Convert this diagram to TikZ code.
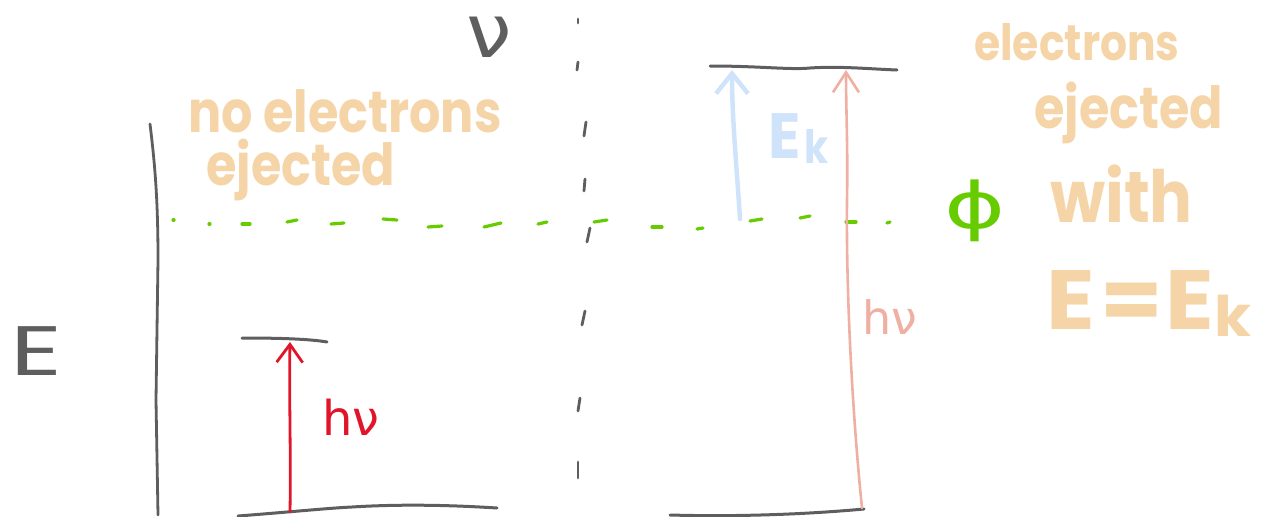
\documentclass[tikz,border=0pt]{standalone}
\usepackage{fontspec}
\setmainfont{Poppins}
\newfontfamily\notefont[FakeStretch=0.85]{Poppins}
\newfontfamily\greekfont{DejaVu Sans}
\usetikzlibrary{arrows.meta}

\definecolor{inkgray}{HTML}{5E5E5E}
\definecolor{notegold}{HTML}{F5D5A8}
\definecolor{phigreen}{HTML}{66CC00}
\definecolor{photonred}{HTML}{E0152A}
\definecolor{photonpink}{HTML}{EFAFA2}
\definecolor{kinblue}{HTML}{CFE4FB}

\begin{document}
\begin{tikzpicture}[x=1pt,y=-1pt,line cap=round,line join=round,
  ink/.style={draw=inkgray,line width=2.8pt},
  level/.style={draw=inkgray,line width=3pt},
  tick/.style={draw=inkgray,line width=2.8pt},
  workfn/.style={draw=phigreen,line width=3.2pt},
  note/.style={text=notegold,inner sep=0pt,anchor=base west},
  lbl/.style={inner sep=0pt,anchor=base west}]
\useasboundingbox (0,0) rectangle (1262,517);

% energy axis
\draw[ink] (150,124) .. controls (155,165) and (158,200) .. (158,260)
  -- (156,400) -- (158,515);
\node[lbl,text=inkgray,font=\fontsize{70}{76}\selectfont] (Elab) at (10,375) {\scalebox{1.45}[1]{E}};

% frequency divider
\node[lbl,text=inkgray,font=\greekfont\fontsize{74}{80}\selectfont] (nulab) at (466,57) {\scalebox{1.1}[1]{ν}};
\foreach \xa/\ya/\xb/\yb in {578/19/578/23, 578/62/577/70, 586/122/584/136,
    585/179/584/191, 590/228/587/242, 585/311/582/325, 580/398/578/411,
    578/462/578/478}
  \draw[tick] (\xa,\ya) -- (\xb,\yb);

% work function threshold
\foreach \xa/\ya/\xb/\yb in {173/220/174/220, 209/224/210/224, 242/224/250/224,
    287/222/297/220, 331/224/344/223, 383/219/397/220, 428/227/442/226,
    484/227/501/223, 538/224/547/222, 594/222/607/220, 652/227/662/227,
    697/229/703/228, 750/221/762/219, 800/218/810/216, 846/222/856/222,
    887/223/890/222}
  \draw[workfn] (\xa,\ya) -- (\xb,\yb);
\node[inner sep=0pt,text=phigreen,font=\greekfont\fontsize{64}{70}\selectfont] (philab) at (975,211) {\scalebox{1.45}[1]{ϕ}};

% low-frequency case
\draw[level] (238,516) .. controls (290,512) and (330,508) .. (352,507)
  .. controls (400,504) and (450,505) .. (497,508);
\draw[level] (242,338) .. controls (280,338) and (310,339) .. (327,342);
\coordinate (lowA) at (290,512);
\coordinate (lowB) at (290,342);
\draw[photonred,line width=2.8pt,-{Straight Barb[length=18pt,width=26pt]}]
  (lowA) .. controls (291,450) and (289,400) .. (lowB);
\node[lbl,text=photonred,font=\greekfont\fontsize{48}{56}\selectfont] (hvlow) at (322,435) {hν};

% high-frequency case
\draw[level] (670,515) .. controls (740,517) and (810,514) .. (864,509);
\draw[level] (710,66) .. controls (760,66) and (790,70) .. (810,68)
  .. controls (840,66) and (870,69) .. (897,70);
\coordinate (ekA) at (740,219);
\coordinate (ekB) at (732,70);
\draw[kinblue,line width=4.5pt,-{Straight Barb[length=20pt,width=32pt]}]
  (ekA) .. controls (737,170) and (732,120) .. (ekB);
\node[lbl,text=kinblue,font=\notefont\bfseries\fontsize{64}{70}\selectfont] (eklab) at (768,158) {\scalebox{1.1}[1]{E}\hspace{4pt}\raisebox{-0.15ex}{\fontsize{46}{50}\selectfont k}};
\coordinate (hiA) at (862,508);
\coordinate (hiB) at (846,70);
\draw[photonpink,line width=2.6pt,-{Straight Barb[length=20pt,width=26pt]}]
  (hiA) .. controls (853,420) and (846,300) .. (847,200)
  .. controls (848,150) and (846,110) .. (hiB);
\node[lbl,text=photonpink,font=\greekfont\fontsize{46}{54}\selectfont] (hvhigh) at (862,334) {hν};

% annotations
\node[note,font=\notefont\bfseries\fontsize{58}{62}\selectfont] (noej1) at (188,132) {no electrons};
\node[note,font=\notefont\bfseries\fontsize{58}{62}\selectfont] (noej2) at (206,185) {ejected};
\node[note,font=\notefont\bfseries\fontsize{50}{54}\selectfont] (ej1) at (974,60) {electrons};
\node[note,font=\notefont\bfseries\fontsize{58}{62}\selectfont] (ej2) at (1034,128) {ejected};
\node[note,font=\notefont\bfseries\fontsize{72}{76}\selectfont] (ej3) at (1050,222) {\scalebox{1.04}[1]{with}};
\node[note,font=\bfseries\fontsize{84}{90}\selectfont] (ej4) at (1046,329)
  {\scalebox{1.07}[1]{E\hspace{5pt}=\hspace{3pt}E\raisebox{-0.15ex}{\fontsize{56}{60}\selectfont k}}};
\end{tikzpicture}
\end{document}
